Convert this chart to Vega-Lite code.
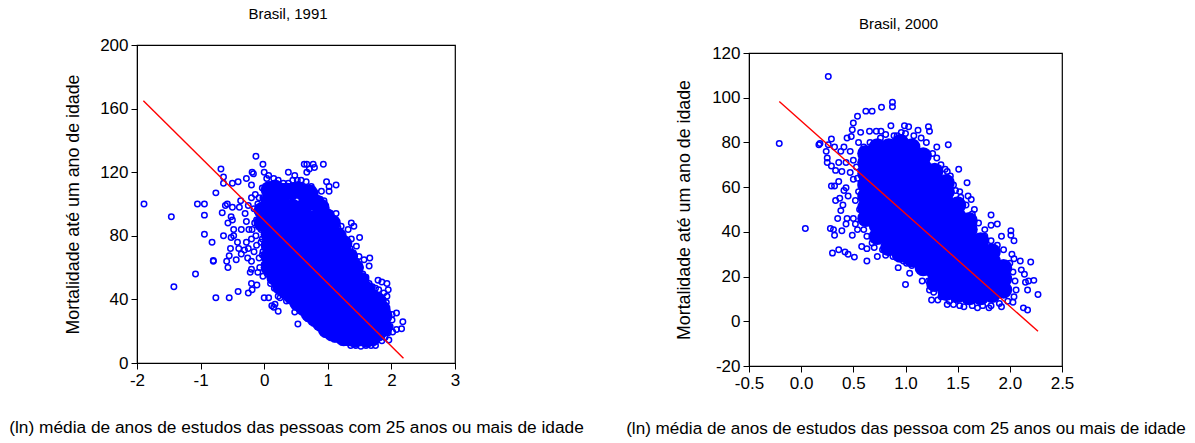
{
"$schema":"https://vega.github.io/schema/vega-lite/v6.json",
"padding":{"left":8,"top":6,"right":0,"bottom":0},
"spacing":41,
"background":"white",
"config":{"font":"Liberation Sans","view":{"stroke":"#000000","strokeWidth":1.2},"title":{"fontWeight":"normal","fontSize":15,"color":"#000000"},
"axis":{"grid":false,"domain":true,"domainColor":"#000000","tickColor":"#000000","tickSize":6,"labelFontSize":17,"labelColor":"#000000","titleFontWeight":"normal","titleColor":"#000000","labelPadding":3,"labelFlush":false}},
"datasets":{
"line91":[{"x":-1.9,"y":165},{"x":2.19,"y":3}],
"line00":[{"x":-0.21,"y":98.3},{"x":2.27,"y":-4.5}],
"core91":[
{"x":-0.03,"y":88},{"x":-0.03,"y":96},
{"x":0.08,"y":60},{"x":0.08,"y":67},{"x":0.08,"y":74},{"x":0.08,"y":81},{"x":0.08,"y":88},{"x":0.08,"y":95},{"x":0.08,"y":102},{"x":0.08,"y":109},
{"x":0.17,"y":54},{"x":0.17,"y":110},
{"x":0.26,"y":48},{"x":0.26,"y":55},{"x":0.26,"y":62},{"x":0.26,"y":69},{"x":0.26,"y":76},{"x":0.26,"y":83},{"x":0.26,"y":90},{"x":0.26,"y":97},{"x":0.26,"y":104},{"x":0.26,"y":108},
{"x":0.35,"y":45},{"x":0.35,"y":108},
{"x":0.44,"y":42},{"x":0.44,"y":49},{"x":0.44,"y":56},{"x":0.44,"y":63},{"x":0.44,"y":70},{"x":0.44,"y":77},{"x":0.44,"y":84},{"x":0.44,"y":91},{"x":0.44,"y":98},{"x":0.44,"y":108},
{"x":0.53,"y":38},{"x":0.53,"y":109},
{"x":0.62,"y":35},{"x":0.62,"y":42},{"x":0.62,"y":49},{"x":0.62,"y":56},{"x":0.62,"y":63},{"x":0.62,"y":70},{"x":0.62,"y":77},{"x":0.62,"y":84},{"x":0.62,"y":91},{"x":0.62,"y":98},{"x":0.62,"y":107},
{"x":0.71,"y":31},{"x":0.71,"y":107},
{"x":0.8,"y":28},{"x":0.8,"y":35},{"x":0.8,"y":42},{"x":0.8,"y":49},{"x":0.8,"y":56},{"x":0.8,"y":63},{"x":0.8,"y":70},{"x":0.8,"y":77},{"x":0.8,"y":84},{"x":0.8,"y":91},{"x":0.8,"y":101},
{"x":0.89,"y":25},{"x":0.89,"y":98},
{"x":0.98,"y":21},{"x":0.98,"y":28},{"x":0.98,"y":35},{"x":0.98,"y":42},{"x":0.98,"y":49},{"x":0.98,"y":56},{"x":0.98,"y":63},{"x":0.98,"y":70},{"x":0.98,"y":77},{"x":0.98,"y":84},{"x":0.98,"y":92},
{"x":1.07,"y":19},{"x":1.07,"y":88},
{"x":1.16,"y":18},{"x":1.16,"y":25},{"x":1.16,"y":32},{"x":1.16,"y":39},{"x":1.16,"y":46},{"x":1.16,"y":53},{"x":1.16,"y":60},{"x":1.16,"y":67},{"x":1.16,"y":74},{"x":1.16,"y":80},
{"x":1.25,"y":16},{"x":1.25,"y":75},
{"x":1.34,"y":16},{"x":1.34,"y":23},{"x":1.34,"y":30},{"x":1.34,"y":37},{"x":1.34,"y":44},{"x":1.34,"y":51},{"x":1.34,"y":60},{"x":1.34,"y":67},
{"x":1.43,"y":15},{"x":1.43,"y":60},
{"x":1.52,"y":16},{"x":1.52,"y":23},{"x":1.52,"y":30},{"x":1.52,"y":37},{"x":1.52,"y":44},{"x":1.52,"y":52},
{"x":1.61,"y":15},{"x":1.61,"y":46},
{"x":1.7,"y":16},{"x":1.7,"y":23},{"x":1.7,"y":30},{"x":1.7,"y":36},{"x":1.7,"y":41},
{"x":1.79,"y":19},{"x":1.79,"y":26},{"x":1.79,"y":33},{"x":1.79,"y":39},
{"x":1.85,"y":24},{"x":1.85,"y":34},{"x":1.88,"y":22},{"x":1.88,"y":30}
],
"ring91":[
{"x":-1.89,"y":100},{"x":-1.46,"y":92},{"x":-1.05,"y":100},{"x":-0.94,"y":100},{"x":-0.94,"y":93},{"x":-0.94,"y":81},{"x":-0.82,"y":76},{"x":-0.8,"y":64},{"x":-0.8,"y":64.5},{"x":-1.08,"y":56},{"x":-1.42,"y":48},{"x":-0.76,"y":41},{"x":-0.55,"y":41},{"x":-0.41,"y":45},{"x":-0.25,"y":44},{"x":-0.19,"y":46},{"x":-0.115,"y":49},{"x":-0.2,"y":50},
{"x":-0.76,"y":107},{"x":-0.68,"y":122},{"x":-0.64,"y":117},{"x":-0.64,"y":113},{"x":-0.5,"y":113},{"x":-0.41,"y":114},{"x":-0.28,"y":116},{"x":-0.2,"y":112},{"x":-0.19,"y":120},{"x":-0.17,"y":119},{"x":-0.13,"y":130},{"x":-0.02,"y":125},{"x":0,"y":120},{"x":0.38,"y":120},{"x":0.48,"y":118},{"x":0.63,"y":125},{"x":0.67,"y":125},{"x":0.77,"y":125},{"x":0.79,"y":123},{"x":0.71,"y":122},{"x":0.67,"y":120},{"x":0.93,"y":125},{"x":0.98,"y":114},{"x":1.13,"y":112},{"x":1.02,"y":108},{"x":1.02,"y":111},{"x":0.9,"y":108},{"x":0.94,"y":102},{"x":1.13,"y":94},{"x":1.37,"y":88},{"x":1.41,"y":86},{"x":1.32,"y":84},{"x":1.21,"y":86},{"x":1.5,"y":79},{"x":1.37,"y":78},{"x":1.45,"y":73.5},{"x":1.66,"y":66},{"x":1.65,"y":61},{"x":1.49,"y":67},{"x":1.57,"y":65},{"x":1.51,"y":60},
{"x":1.79,"y":52},{"x":1.85,"y":51},{"x":1.93,"y":50},{"x":1.95,"y":46},{"x":1.93,"y":42},{"x":1.92,"y":38},{"x":2.08,"y":31.5},{"x":2.01,"y":30.5},{"x":2.01,"y":27},{"x":2.18,"y":26},{"x":2.16,"y":21.5},{"x":2.08,"y":21},{"x":2.02,"y":19.5},{"x":1.96,"y":14.5},
{"x":0.53,"y":24.5},{"x":0.68,"y":28},{"x":0.48,"y":32},{"x":0.22,"y":32.5},{"x":0.15,"y":35},{"x":0.22,"y":42},{"x":0,"y":41},{"x":0.07,"y":41},{"x":0.17,"y":37},{"x":0.12,"y":36},
{"x":-0.64,"y":80},{"x":-0.52,"y":79},{"x":-0.48,"y":80},{"x":-0.66,"y":94.5},{"x":-0.61,"y":99},{"x":-0.58,"y":100},{"x":-0.5,"y":98},{"x":-0.39,"y":98},{"x":-0.37,"y":102},{"x":-0.52,"y":92},{"x":-0.57,"y":88},{"x":-0.5,"y":90},{"x":-0.48,"y":84},{"x":-0.36,"y":84},{"x":-0.53,"y":72},{"x":-0.42,"y":76},{"x":-0.4,"y":72},{"x":-0.55,"y":67.5},{"x":-0.59,"y":64},{"x":-0.57,"y":60},{"x":-0.44,"y":65},{"x":-0.36,"y":68.5},{"x":-0.26,"y":66},{"x":-0.2,"y":64},{"x":-0.22,"y":57},{"x":-0.2,"y":59},{"x":-0.1,"y":57},{"x":-0.02,"y":54.5},{"x":-0.28,"y":89},{"x":-0.19,"y":84},{"x":-0.2,"y":78},{"x":-0.31,"y":71},{"x":-0.3,"y":94},{"x":-0.25,"y":99},{"x":-0.2,"y":104},{"x":-0.14,"y":106},{"x":-0.1,"y":100},{"x":-0.28,"y":76},{"x":-0.12,"y":90},{"x":-0.05,"y":84},{"x":-0.12,"y":74},{"x":-0.08,"y":66},{"x":-0.1,"y":95},{"x":-0.15,"y":88},{"x":-0.13,"y":80},{"x":-0.16,"y":70},{"x":-0.05,"y":76},{"x":-0.03,"y":68},{"x":-0.07,"y":60},{"x":-0.08,"y":104},{"x":-0.16,"y":97},{"x":-0.24,"y":84},{"x":-0.25,"y":72},
{"x":-0.03,"y":110},{"x":-0.02,"y":104},{"x":-0.03,"y":96},{"x":-0.03,"y":78},{"x":-0.02,"y":70},{"x":0.0,"y":62},{"x":0.04,"y":116},{"x":0.07,"y":118},{"x":0.15,"y":116},{"x":0.22,"y":115},{"x":0.3,"y":113},{"x":0.38,"y":113},{"x":0.45,"y":115},{"x":0.52,"y":115},{"x":0.58,"y":115},{"x":0.66,"y":114},{"x":0.74,"y":111},{"x":0.8,"y":107},{"x":0.88,"y":103},{"x":0.97,"y":97},{"x":1.04,"y":94},{"x":1.1,"y":90},{"x":1.16,"y":85},{"x":1.2,"y":82},{"x":1.24,"y":79},{"x":1.3,"y":76},{"x":1.35,"y":72},{"x":1.4,"y":69},{"x":1.45,"y":64},{"x":1.5,"y":61},{"x":1.55,"y":56},{"x":1.6,"y":54},{"x":1.65,"y":50},{"x":1.7,"y":48},{"x":1.75,"y":47},{"x":1.8,"y":46},{"x":1.88,"y":44},{"x":1.85,"y":38},{"x":1.9,"y":33},{"x":1.95,"y":28},{"x":1.98,"y":23},{"x":1.95,"y":19},{"x":1.9,"y":16},
{"x":1.85,"y":14},{"x":1.75,"y":11},{"x":1.68,"y":11},{"x":1.6,"y":11},{"x":1.52,"y":10.5},{"x":1.44,"y":11},{"x":1.36,"y":11},{"x":1.28,"y":13},{"x":1.2,"y":14},{"x":1.1,"y":15},{"x":1.03,"y":17},{"x":0.96,"y":20},{"x":0.9,"y":23},{"x":0.8,"y":25},{"x":0.72,"y":30},{"x":0.62,"y":32},{"x":0.55,"y":36},{"x":0.45,"y":38},{"x":0.35,"y":39},{"x":0.25,"y":41},{"x":0.16,"y":47},{"x":0.1,"y":50},{"x":0.05,"y":56}
],
"core00":[
{"x":0.62,"y":46},{"x":0.62,"y":51},{"x":0.62,"y":56},{"x":0.62,"y":61},{"x":0.62,"y":66},{"x":0.62,"y":71},{"x":0.62,"y":75},
{"x":0.73,"y":38},{"x":0.73,"y":43},{"x":0.73,"y":48},{"x":0.73,"y":53},{"x":0.73,"y":58},{"x":0.73,"y":63},{"x":0.73,"y":68},{"x":0.73,"y":73},{"x":0.73,"y":78},
{"x":0.84,"y":33},{"x":0.84,"y":38},{"x":0.84,"y":43},{"x":0.84,"y":48},{"x":0.84,"y":53},{"x":0.84,"y":58},{"x":0.84,"y":63},{"x":0.84,"y":68},{"x":0.84,"y":73},{"x":0.84,"y":78},
{"x":0.95,"y":30},{"x":0.95,"y":35},{"x":0.95,"y":40},{"x":0.95,"y":45},{"x":0.95,"y":50},{"x":0.95,"y":55},{"x":0.95,"y":60},{"x":0.95,"y":65},{"x":0.95,"y":70},{"x":0.95,"y":75},{"x":0.95,"y":80},
{"x":1.06,"y":28},{"x":1.06,"y":33},{"x":1.06,"y":38},{"x":1.06,"y":43},{"x":1.06,"y":48},{"x":1.06,"y":53},{"x":1.06,"y":58},{"x":1.06,"y":63},{"x":1.06,"y":68},{"x":1.06,"y":73},{"x":1.06,"y":78},
{"x":1.17,"y":24},{"x":1.17,"y":29},{"x":1.17,"y":34},{"x":1.17,"y":39},{"x":1.17,"y":44},{"x":1.17,"y":49},{"x":1.17,"y":54},{"x":1.17,"y":59},{"x":1.17,"y":64},{"x":1.17,"y":69},{"x":1.17,"y":74},
{"x":1.28,"y":17},{"x":1.28,"y":22},{"x":1.28,"y":27},{"x":1.28,"y":32},{"x":1.28,"y":37},{"x":1.28,"y":42},{"x":1.28,"y":47},{"x":1.28,"y":52},{"x":1.28,"y":57},{"x":1.28,"y":62},{"x":1.28,"y":67},
{"x":1.39,"y":13},{"x":1.39,"y":18},{"x":1.39,"y":23},{"x":1.39,"y":28},{"x":1.39,"y":33},{"x":1.39,"y":38},{"x":1.39,"y":43},{"x":1.39,"y":48},{"x":1.39,"y":53},{"x":1.39,"y":58},{"x":1.39,"y":62},
{"x":1.5,"y":12},{"x":1.5,"y":17},{"x":1.5,"y":22},{"x":1.5,"y":27},{"x":1.5,"y":32},{"x":1.5,"y":37},{"x":1.5,"y":42},{"x":1.5,"y":47},{"x":1.5,"y":52},
{"x":1.61,"y":11},{"x":1.61,"y":16},{"x":1.61,"y":21},{"x":1.61,"y":26},{"x":1.61,"y":31},{"x":1.61,"y":36},{"x":1.61,"y":41},{"x":1.61,"y":45},
{"x":1.72,"y":11},{"x":1.72,"y":16},{"x":1.72,"y":21},{"x":1.72,"y":26},{"x":1.72,"y":31},{"x":1.72,"y":36},
{"x":1.83,"y":12},{"x":1.83,"y":17},{"x":1.83,"y":22},{"x":1.83,"y":27},{"x":1.83,"y":31},
{"x":1.94,"y":14},{"x":1.94,"y":19},{"x":1.94,"y":24}
],
"ring00":[
{"x":-0.21,"y":79.5},{"x":0.04,"y":41.5},{"x":0.26,"y":109.5},{"x":0.17,"y":79},{"x":0.18,"y":79.5},{"x":0.29,"y":81.5},{"x":0.26,"y":79},{"x":0.32,"y":78},{"x":0.41,"y":78},{"x":0.38,"y":76},{"x":0.24,"y":76},{"x":0.25,"y":73},{"x":0.25,"y":71},{"x":0.29,"y":69.5},{"x":0.33,"y":67.5},{"x":0.39,"y":67},{"x":0.36,"y":71},{"x":0.43,"y":71},{"x":0.47,"y":66.5},{"x":0.5,"y":63.5},{"x":0.29,"y":60.5},{"x":0.32,"y":60.5},{"x":0.36,"y":62.5},{"x":0.33,"y":54},{"x":0.41,"y":58.5},{"x":0.43,"y":59.7},{"x":0.37,"y":55},{"x":0.45,"y":56},{"x":0.4,"y":52},{"x":0.38,"y":49.5},{"x":0.35,"y":46},{"x":0.44,"y":46},{"x":0.43,"y":43.5},{"x":0.5,"y":46},{"x":0.28,"y":41.5},{"x":0.31,"y":41},{"x":0.32,"y":38.5},{"x":0.39,"y":40.5},{"x":0.49,"y":38.5},{"x":0.54,"y":41},{"x":0.52,"y":43.5},{"x":0.58,"y":33.5},{"x":0.63,"y":32.5},{"x":0.3,"y":30.5},{"x":0.36,"y":32},{"x":0.42,"y":31},{"x":0.45,"y":30},{"x":0.51,"y":28.7},{"x":0.63,"y":27},{"x":0.73,"y":29},{"x":0.81,"y":29.5},{"x":0.93,"y":24},{"x":1.04,"y":21.5},{"x":1.0,"y":16.5},{"x":1.16,"y":18},{"x":1.01,"y":26},{"x":1.23,"y":14},{"x":1.25,"y":9.5},{"x":1.31,"y":9.5},{"x":1.4,"y":7.5},{"x":1.46,"y":7.5},{"x":1.56,"y":6.5},{"x":1.69,"y":6},{"x":1.8,"y":6},{"x":1.92,"y":6.5},{"x":2.03,"y":8.5},{"x":2.13,"y":6},{"x":2.17,"y":5},{"x":2.27,"y":12},{"x":2.17,"y":14},{"x":2.23,"y":18.3},{"x":2.18,"y":18},{"x":2.15,"y":17.5},{"x":2.2,"y":26.5},{"x":2.14,"y":21},{"x":2.11,"y":23},{"x":2.1,"y":27},{"x":2.04,"y":28},{"x":2.02,"y":30},{"x":2.04,"y":36},{"x":2.01,"y":40.5},{"x":2.01,"y":38.5},{"x":1.92,"y":38},{"x":1.88,"y":43.5},{"x":1.82,"y":47.5},{"x":1.82,"y":43},{"x":1.76,"y":41},{"x":1.66,"y":50},{"x":1.59,"y":62},{"x":1.6,"y":56},{"x":1.63,"y":54.5},{"x":1.53,"y":55.5},{"x":1.51,"y":68},{"x":1.41,"y":79},{"x":1.3,"y":78},{"x":1.3,"y":73},{"x":1.38,"y":68},{"x":1.43,"y":65},{"x":1.48,"y":58.5},
{"x":1.22,"y":87},{"x":1.23,"y":85},{"x":1.12,"y":85.5},{"x":1.03,"y":87},{"x":0.99,"y":87.5},{"x":0.96,"y":84.5},{"x":0.86,"y":87.5},{"x":0.875,"y":98},{"x":0.875,"y":96},{"x":0.77,"y":95.7},{"x":0.68,"y":94},{"x":0.62,"y":94},{"x":0.54,"y":91.7},{"x":0.5,"y":88.7},{"x":0.49,"y":85.7},{"x":0.44,"y":82},{"x":0.48,"y":82.7},{"x":0.57,"y":84.5},{"x":0.655,"y":85},{"x":0.72,"y":85},{"x":0.765,"y":85},{"x":0.81,"y":83.5},{"x":0.89,"y":83},
{"x":0.47,"y":76},{"x":0.5,"y":72},{"x":0.55,"y":80},{"x":0.6,"y":78},{"x":0.53,"y":69},{"x":0.54,"y":64},{"x":0.55,"y":58},{"x":0.52,"y":54},{"x":0.56,"y":50},{"x":0.58,"y":46},{"x":0.6,"y":41},{"x":0.63,"y":38},{"x":0.68,"y":35},{"x":0.66,"y":80},{"x":0.76,"y":82},{"x":0.92,"y":83},{"x":1.0,"y":84},{"x":1.08,"y":83},{"x":1.15,"y":82},{"x":1.2,"y":80},{"x":1.26,"y":75},{"x":1.34,"y":70},{"x":1.4,"y":67},{"x":1.46,"y":61},{"x":1.52,"y":58},{"x":1.58,"y":52},{"x":1.64,"y":48},{"x":1.7,"y":44},{"x":1.76,"y":38},{"x":1.82,"y":36},{"x":1.88,"y":34},{"x":1.94,"y":32},{"x":2.0,"y":26},{"x":2.03,"y":22},{"x":2.05,"y":18},{"x":2.06,"y":14},{"x":2.04,"y":11},{"x":1.98,"y":9},{"x":1.9,"y":8},{"x":1.82,"y":7},{"x":1.74,"y":7},{"x":1.64,"y":7},{"x":1.52,"y":7},{"x":1.42,"y":9},{"x":1.34,"y":11},{"x":1.27,"y":13},{"x":1.22,"y":18},{"x":1.14,"y":23},{"x":1.06,"y":25},{"x":0.98,"y":27},{"x":0.88,"y":29},{"x":0.78,"y":32},{"x":0.7,"y":33}
]
},
"hconcat":[
{"width":318,"height":318,
"title":{"text":"Brasil, 1991","offset":14,"dx":-8},
"layer":[
{"data":{"name":"core91"},"mark":{"type":"point","filled":true,"color":"#0000FF","size":300,"opacity":1},
"encoding":{"x":{"field":"x","type":"quantitative","scale":{"domain":[-2,3],"nice":false},"axis":{"values":[-2,-1,0,1,2,3],"labelExpr":"'' + datum.value","title":"(ln) média de anos de estudos das pessoas com 25 anos ou mais de idade","titleFontSize":17.3,"titlePadding":30}},
"y":{"field":"y","type":"quantitative","scale":{"domain":[0,200],"nice":false},"axis":{"values":[0,40,80,120,160,200],"title":"Mortalidade até um ano de idade","titleFontSize":17.8,"titlePadding":17}}}},
{"data":{"name":"ring91"},"mark":{"type":"point","filled":false,"color":"#0000FF","size":30,"strokeWidth":1.5,"opacity":1},
"encoding":{"x":{"field":"x","type":"quantitative"},"y":{"field":"y","type":"quantitative"}}},
{"data":{"name":"line91"},"mark":{"type":"line","color":"#FF0000","strokeWidth":1.4},
"encoding":{"x":{"field":"x","type":"quantitative"},"y":{"field":"y","type":"quantitative"}}}
]},
{"spacing":-3,"vconcat":[
{"width":313,"height":1,"view":{"stroke":null},"title":{"text":"Brasil, 2000","offset":13,"dx":-7},"data":{"values":[]},"mark":"point","encoding":{}},
{"width":313,"height":313,
"layer":[
{"data":{"name":"core00"},"mark":{"type":"point","filled":true,"color":"#0000FF","size":300,"opacity":1},
"encoding":{"x":{"field":"x","type":"quantitative","scale":{"domain":[-0.5,2.5],"nice":false},"axis":{"values":[-0.5,0,0.5,1,1.5,2,2.5],"labelExpr":"replace(format(datum.value,'.1f'),'−','-')","title":"(ln) média de anos de estudos das pessoa com 25 anos ou mais de idade","titleFontSize":17.1,"titlePadding":28}},
"y":{"field":"y","type":"quantitative","scale":{"domain":[-20,120],"nice":false},"axis":{"values":[-20,0,20,40,60,80,100,120],"labelExpr":"'' + datum.value","title":"Mortalidade até um ano de idade","titleFontSize":17.8,"titlePadding":18}}}},
{"data":{"name":"ring00"},"mark":{"type":"point","filled":false,"color":"#0000FF","size":30,"strokeWidth":1.5,"opacity":1},
"encoding":{"x":{"field":"x","type":"quantitative"},"y":{"field":"y","type":"quantitative"}}},
{"data":{"name":"line00"},"mark":{"type":"line","color":"#FF0000","strokeWidth":1.4},
"encoding":{"x":{"field":"x","type":"quantitative"},"y":{"field":"y","type":"quantitative"}}}
]}
]}
]
}
